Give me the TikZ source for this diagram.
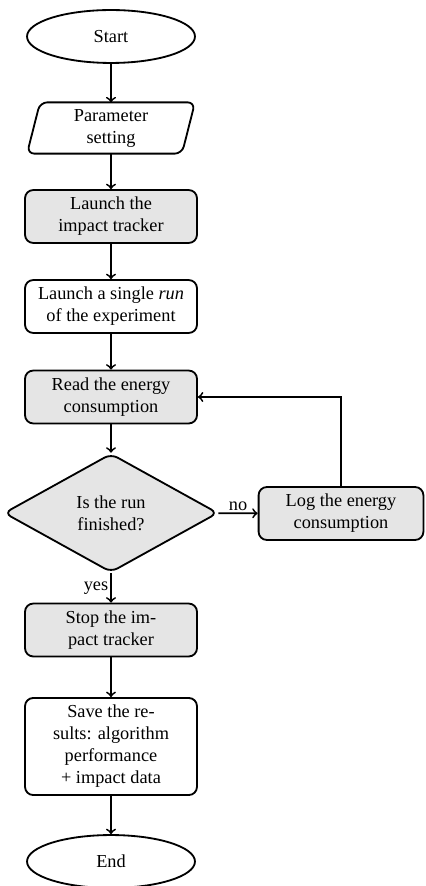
\documentclass[tikz,border=0pt]{standalone}
\usepackage{fontspec}
\setmainfont{Liberation Serif}
\usetikzlibrary{shapes.geometric,calc}
\begin{document}
\begin{tikzpicture}[x=0.546pt,y=-0.546pt,
  every node/.style={font=\fontsize{10pt}{12pt}\selectfont},
  base/.style={draw,line width=1pt,align=center,inner sep=2pt},
  term/.style={base,ellipse,minimum width=91.7pt,minimum height=28.9pt},
  iobox/.style={align=center,inner sep=2pt,outer sep=0pt,rectangle,minimum width=91.7pt,minimum height=28pt},
  procbox/.style={base,rectangle,rounded corners=4.5pt,minimum width=93.9pt,minimum height=28.9pt},
  grayfill/.style={fill=gray!20},
  decision/.style={base,diamond,fill=gray!20,rounded corners=4pt,minimum width=116.8pt,minimum height=57.9pt},
  outline/.style={line width=1pt,rounded corners=4pt},
  flow/.style={->,line width=1pt},
  lab/.style={inner sep=1pt}
]
\useasboundingbox (0,0) rectangle (425,886);
\node[term] (start) at (111,36.5) {Start};
\node[iobox] (param) at (111,128) {Parameter\\setting};
\draw[outline] (param.south west) -- ($(param.north west)+(13,0)$) -- (param.north east) -- ($(param.south east)+(-13,0)$) -- cycle;
\node[procbox,grayfill] (launch) at (111,216.5) {Launch the\\impact tracker};
\node[procbox] (single) at (111,306.5) {Launch a single \textit{run}\\of the experiment};
\node[procbox,grayfill] (read) at (111,397) {Read the energy\\consumption};
\node[decision] (dec) at (111,513) {Is the run\\finished?};
\node[procbox,grayfill,minimum width=90pt] (log) at (341,513.5) {Log the energy\\consumption};
\node[procbox,grayfill] (stop) at (111,630) {Stop the im-\\pact tracker};
\node[procbox,minimum height=53pt] (save) at (111,746.5) {Save the re-\\sults: algorithm\\performance\\+ impact data};
\node[term] (end) at (111,861.5) {End};

\draw[flow] (start) -- (param);
\draw[flow] (param) -- (launch);
\draw[flow] (launch) -- (single);
\draw[flow] (single) -- (read);
\draw[flow] (read) -- (dec);
\draw[flow] (dec) -- node[lab,above] {no} (log);
\draw[flow] (log.north) |- (read.east);
\draw[flow] (dec) -- node[lab,left,pos=0.5] {yes} (stop);
\draw[flow] (stop) -- (save);
\draw[flow] (save) -- (end);
\end{tikzpicture}
\end{document}
